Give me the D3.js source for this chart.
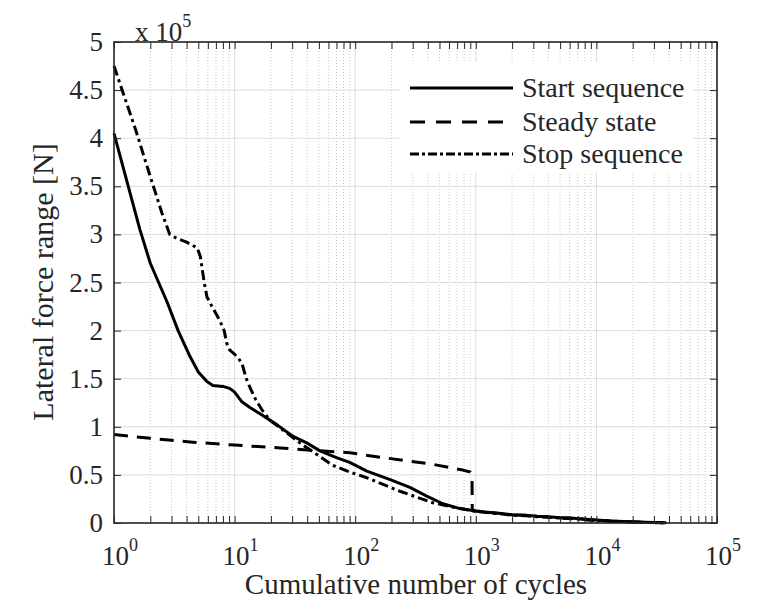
<!DOCTYPE html>
<html><head><meta charset="utf-8">
<script src="https://cdn.jsdelivr.net/npm/d3@7/dist/d3.min.js"></script>
<style>body{margin:0;background:#fff}svg{display:block}text{font-family:"Liberation Serif","Times New Roman",serif;fill:#262626}</style>
</head><body><svg id="c" width="757" height="600"></svg>
<script>
// ---- data (force values in units of 1e5 N) ----
const seriesNames = ["Start sequence", "Steady state", "Stop sequence"];
const startCycles = [1,1.3,1.64,2,2.75,3.4,4.27,5,5.9,6.6,8,9.1,10,11.5,13.4,17,22.5,30.6,40,51,70,90,125,195,284,392,534,740,1000,1300,1600,2000,2600,3200,4000,5000,6500,8000,10000,13000,17000,22000,30000,38000];
const startForce  = [4.05,3.52,3.05,2.70,2.30,2.0,1.73,1.57,1.47,1.43,1.42,1.40,1.36,1.26,1.20,1.12,1.02,0.90,0.83,0.75,0.68,0.63,0.54,0.45,0.37,0.28,0.20,0.15,0.125,0.11,0.10,0.085,0.08,0.07,0.065,0.055,0.05,0.04,0.03,0.02,0.015,0.01,0.005,0.003];
const steadyCycles = [1,2,3,4.5,10,24,40,90,170,440,780,900,930,935,1000,1300,1600,2000,2600,3200,4000,5000,6500,8000,10000,13000,17000,22000,30000,38000];
const steadyForce  = [0.92,0.88,0.86,0.84,0.81,0.78,0.76,0.73,0.68,0.61,0.55,0.53,0.50,0.13,0.125,0.11,0.10,0.085,0.08,0.07,0.065,0.055,0.05,0.04,0.03,0.02,0.015,0.01,0.005,0.003];
const stopCycles = [1,1.5,2,2.5,2.9,3.3,4,4.9,5.2,5.6,5.9,6.5,7.5,8.2,8.6,9.1,10.5,11.5,12.5,13.4,15,17,19.6,23.8,35,51,65,90,125,235,440,740,1000,1300,1600,2000,2600,3200,4000,5000,6500,8000,10000,13000,17000,22000,30000,38000];
const stopForce  = [4.75,4.1,3.6,3.22,3.0,2.96,2.92,2.86,2.77,2.50,2.35,2.25,2.11,2.0,1.87,1.80,1.73,1.66,1.50,1.41,1.28,1.17,1.07,0.99,0.83,0.69,0.60,0.53,0.47,0.33,0.21,0.15,0.12,0.105,0.095,0.08,0.075,0.065,0.06,0.05,0.045,0.035,0.025,0.018,0.012,0.008,0.004,0.002];
const yTicks = [0,0.5,1,1.5,2,2.5,3,3.5,4,4.5,5];
const yTickLabels = ["0","0.5","1","1.5","2","2.5","3","3.5","4","4.5","5"];
const xDecades = [1,10,100,1000,10000,100000];
const xExponents = ["0","1","2","3","4","5"];

const svg = d3.select("#c");
const L=114,R=717,T=42,B=523;
const x = d3.scaleLog().domain([1,1e5]).range([L,R]);
const y = d3.scaleLinear().domain([0,5]).range([B,T]);

const minorTicks = [];
for (let k=0;k<5;k++) for (let m=2;m<=9;m++) minorTicks.push(m*Math.pow(10,k));

// grid
const g = svg.append("g");
g.selectAll(".vmin").data(minorTicks).join("line")
 .attr("x1",d=>x(d)).attr("x2",d=>x(d)).attr("y1",T).attr("y2",B)
 .attr("stroke","#c8c8c8").attr("stroke-width",1).attr("stroke-dasharray","1,2");
g.selectAll(".vmaj").data(xDecades).join("line")
 .attr("x1",d=>x(d)).attr("x2",d=>x(d)).attr("y1",T).attr("y2",B)
 .attr("stroke","#dcdcdc").attr("stroke-width",1);
g.selectAll(".h").data(yTicks).join("line")
 .attr("x1",L).attr("x2",R).attr("y1",d=>y(d)).attr("y2",d=>y(d))
 .attr("stroke","#dcdcdc").attr("stroke-width",1);

// series
const series = [
 {name:seriesNames[0], xs:startCycles, ys:startForce, dash:null},
 {name:seriesNames[1], xs:steadyCycles, ys:steadyForce, dash:"14,9"},
 {name:seriesNames[2], xs:stopCycles, ys:stopForce, dash:"10,4,3,4"}
];
const line = d3.line().x(d=>x(d[0])).y(d=>y(d[1]));
series.forEach(s=>{
  svg.append("path").datum(s.xs.map((v,i)=>[v,s.ys[i]]))
   .attr("d",line).attr("fill","none").attr("stroke","#000")
   .attr("stroke-width",3).attr("stroke-linejoin","round")
   .attr("stroke-dasharray",s.dash);
});

// axes (ticks inward)
const axStyle = sel=>{sel.select(".domain").remove();sel.selectAll("line").attr("stroke","#262626").attr("stroke-width",1);sel.selectAll("text").remove();};
svg.append("g").attr("transform",`translate(0,${B})`).call(d3.axisBottom(x).tickValues(xDecades.concat(minorTicks)).tickSize(-7).tickFormat("")).call(axStyle);
svg.append("g").attr("transform",`translate(0,${T})`).call(d3.axisTop(x).tickValues(xDecades.concat(minorTicks)).tickSize(-7).tickFormat("")).call(axStyle);
svg.append("g").attr("transform",`translate(${L},0)`).call(d3.axisLeft(y).tickValues(yTicks).tickSize(-7).tickFormat("")).call(axStyle);
svg.append("g").attr("transform",`translate(${R},0)`).call(d3.axisRight(y).tickValues(yTicks).tickSize(-7).tickFormat("")).call(axStyle);
svg.append("rect").attr("x",L).attr("y",T).attr("width",R-L).attr("height",B-T)
 .attr("fill","none").attr("stroke","#262626").attr("stroke-width",1.6);

// tick labels
svg.selectAll(".yl").data(yTicks).join("text")
 .attr("x",L-11).attr("y",d=>y(d)+9).attr("text-anchor","end")
 .attr("font-size",27).text((d,i)=>yTickLabels[i]);
xDecades.forEach((d,i)=>{
  const t = svg.append("text").attr("x",x(d)+6).attr("y",565).attr("text-anchor","middle").attr("font-size",27);
  t.append("tspan").text("10");
  t.append("tspan").attr("dy",-14).attr("font-size",18).text(xExponents[i]);
});
// multiplier
const mt = svg.append("text").attr("x",135).attr("y",41).attr("font-size",27);
mt.append("tspan").text("x 10");
mt.append("tspan").attr("dy",-14).attr("font-size",18).text("5");

// axis titles
svg.append("text").attr("x",416).attr("y",594).attr("text-anchor","middle").attr("font-size",29)
 .text("Cumulative number of cycles");
svg.append("text").attr("transform",`translate(53,282) rotate(-90)`).attr("text-anchor","middle").attr("font-size",30)
 .text("Lateral force range [N]");

// legend
const lg = svg.append("g");
lg.append("rect").attr("x",400).attr("y",62).attr("width",293).attr("height",110).attr("fill","#fff");
const ly = [88,122,154];
series.forEach((s,i)=>{
  lg.append("line").attr("x1",410).attr("x2",513).attr("y1",ly[i]).attr("y2",ly[i])
   .attr("stroke","#000").attr("stroke-width",3)
   .attr("stroke-dasharray", i===1?"15,11":(i===2?"9,3,3,3":null));
  lg.append("text").attr("x",522).attr("y",ly[i]+9).attr("font-size",28).text(s.name);
});
</script></body></html>
